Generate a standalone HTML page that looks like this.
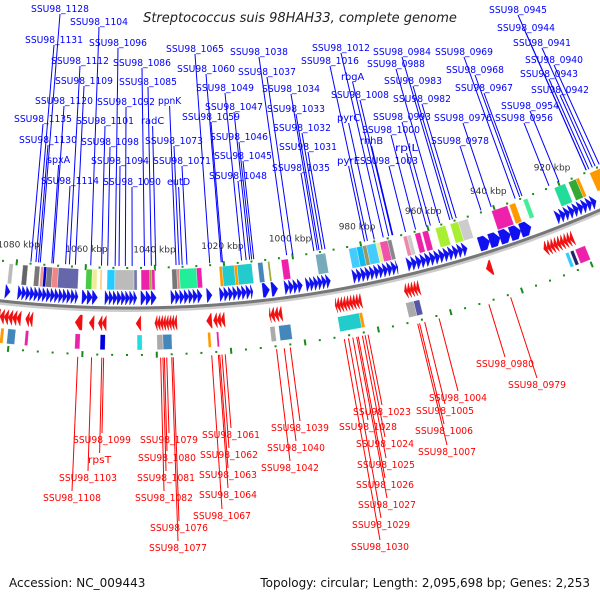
<!DOCTYPE html>
<html><head><meta charset="utf-8"><style>
html,body{margin:0;padding:0;background:#fff;}
svg{display:block;font-family:"DejaVu Sans","Liberation Sans",sans-serif;}
</style></head><body>
<svg id="map" width="600" height="600" viewBox="0 0 600 600" xmlns="http://www.w3.org/2000/svg">
<rect x="0" y="0" width="600" height="600" fill="#fff"/>
<text x="300" y="22" text-anchor="middle" font-size="13" font-style="italic" fill="#222">Streptococcus suis 98HAH33, complete genome</text>
<text x="9" y="587" font-size="12" fill="#111">Accession: NC_009443</text>
<text x="590" y="587" text-anchor="end" font-size="12" fill="#111">Topology: circular; Length: 2,095,698 bp; Genes: 2,253</text>
<g id="layer"></g>
</svg>
<script>
// ---- data ----
const tickKb = [1080,1060,1040,1020,1000,980,960,940,920];
const tickLabels = ["1080 kbp","1060 kbp","1040 kbp","1020 kbp","1000 kbp","980 kbp","960 kbp","940 kbp","920 kbp"];
const blueClusters = [[1083.7,1082.3],[1080,1062.4],[1061.2,1056.6],[1054.5,1045.2],[1044,1039.3],[1035.2,1026.1],[1024.7,1023.2],[1020.9,1011.2],[1008.3,1006.3],[1005.7,1003.9],[1001.8,996.5],[995.5,988.3],[981.6,968.2],[965.3,947.2],[943.5,927.3],[919.6,907]];
const blueGeneLen = [1.4,1.2,1.5,1.2,1.5,1.3,1.5,1.3,2,1.8,1.3,1.2,1.3,1.4,3.2,1.4];
const redClusters = [[1086,1078.5],[1077.1,1075.1],[1062.9,1060.9],[1059.2,1057.5],[1056.3,1054],[1045.5,1044.1],[1040.1,1033.8],[1025.3,1023.8],[1023.3,1020.1],[1007.3,1003.6],[988.2,980.6],[968,963.6],[943.7,942],[926.4,917.3]];
const redGeneLen = [1.2,1.0,2,1.4,1.2,1.4,0.8,1.5,1.1,1.1,0.9,0.9,1.7,1.0];
const upBoxStart = [1083.4,1079.3,1075.7,1073.9,1073,1072.1,1070.4,1068.6,1060.3,1058.5,1056.1,1054,1051.7,1046,1043.9,1041.3,1040.7,1034.7,1033.2,1032.4,1027.3,1020.5,1019.6,1016,1015.1,1008.9,1005.9,1001.8,991.4,981.3,978.9,977.1,975.9,973,971.8,969.4,964.6,963.4,961,958.7,954.6,950,947.5,937,931.4,927,917,912.4,910,905.5];
const upBoxEnd   = [1082.2,1077.8,1074.2,1073,1072.1,1070.4,1068.6,1062.6,1058.5,1057,1055.5,1051.7,1046,1045.1,1041.3,1040.7,1039.8,1033.2,1032.4,1027.3,1025.8,1019.6,1016,1015.1,1010.7,1007.4,1005.3,999.7,988.4,978.9,977.1,975.9,973,971.8,969.4,968.2,963.4,962.2,959.3,956.9,951.5,947.5,944.5,932,929.5,925.6,913.5,910,909,902];
const upBoxColor = ["#bbb","#666","#777","#e99","#00c","#778","#e88","#66a","#4c4","#ee9","#fc8","#2cf","#bbb","#77a","#e2a","#8a3","#e2a","#777","#e88","#2e9","#e2a","#f90","#2cc","#f90","#2cc","#48b","#9a3","#e2a","#7ab","#4cf","#1be","#996","#4cf","#ee9","#e5a","#888","#e8a","#ccc","#e2a","#e2a","#ae3","#ae3","#ccc","#e2a","#f90","#4e9","#2d9","#3a3","#f90","#f90"];
const lowBoxStart = [1083.8,1081.8,1076.8,1062.7,1055.6,1045.2,1039.6,1037.9,1025.2,1022.7,1007.5,1005,988.1,981.9,968.4,966.1,921,919.5,918];
const lowBoxEnd   = [1082.9,1079.6,1075.9,1061.3,1054.2,1043.8,1037.9,1035.4,1024.4,1022.1,1006.1,1001.6,981.9,981,966.1,964.4,920,918.5,915];
const lowBoxColor = ["#f90","#48b","#e2a","#e2a","#00d","#2dd","#aaa","#48b","#f90","#e2a","#aaa","#48b","#2cc","#f90","#aaa","#55a","#3cf","#226","#e2a"];
const blueNames = ["SSU98_1128","SSU98_1104","SSU98_1131","SSU98_1096","SSU98_1112","SSU98_1086","SSU98_1109","SSU98_1085","SSU98_1120","SSU98_1092","ppnK","SSU98_1135","SSU98_1101","radC","SSU98_1130","SSU98_1098","SSU98_1073","spxA","SSU98_1094","SSU98_1071","SSU98_1114","SSU98_1090","eutD","SSU98_1065","SSU98_1060","SSU98_1049","SSU98_1047","SSU98_1059","SSU98_1046","SSU98_1045","SSU98_1048","SSU98_1038","SSU98_1037","SSU98_1034","SSU98_1033","SSU98_1032","SSU98_1031","SSU98_1035","SSU98_1012","SSU98_1016","rbgA","SSU98_1008","pyrC","rnhB","pyrE","SSU98_1003","SSU98_0984","SSU98_0988","SSU98_0983","SSU98_0982","SSU98_0993","SSU98_1000","rpiL","SSU98_0969","SSU98_0968","SSU98_0967","SSU98_0976","SSU98_0978","SSU98_0945","SSU98_0944","SSU98_0941","SSU98_0940","SSU98_0943","SSU98_0942","SSU98_0954","SSU98_0956"];
const blueX = [31,70,25,89,51,113,55,119,35,97,158,14,76,141,19,81,145,47,91,153,41,103,167,166,177,196,205,182,210,214,209,230,238,262,267,273,279,272,312,301,341,331,337,360,337,360,373,367,384,393,373,362,395,435,446,455,434,431,489,497,513,525,520,531,501,495];
const blueY = [12,25,43,46,64,66,84,85,104,105,104,122,124,124,143,145,144,163,164,164,184,185,185,52,72,91,110,120,140,159,179,55,75,92,112,131,150,171,51,64,80,98,121,144,164,164,55,67,84,102,120,133,151,55,73,91,121,144,13,31,46,63,77,93,109,121];
const redNames = ["SSU98_1099","rpsT","SSU98_1103","SSU98_1108","SSU98_1079","SSU98_1080","SSU98_1081","SSU98_1082","SSU98_1076","SSU98_1077","SSU98_1061","SSU98_1062","SSU98_1063","SSU98_1064","SSU98_1067","SSU98_1039","SSU98_1040","SSU98_1042","SSU98_1023","SSU98_1028","SSU98_1024","SSU98_1025","SSU98_1026","SSU98_1027","SSU98_1029","SSU98_1030","SSU98_1004","SSU98_1005","SSU98_1006","SSU98_1007","SSU98_0980","SSU98_0979"];
const redX = [73,88,59,43,140,138,137,135,150,149,202,200,199,199,193,271,267,261,353,339,356,357,356,358,352,351,429,416,415,418,476,508];
const redY = [443,463,481,501,443,461,481,501,531,551,438,458,478,498,519,431,451,471,415,430,447,468,488,508,528,550,401,414,434,455,367,388];

// ---- geometry ----
const NS = "http://www.w3.org/2000/svg";
const CX = 130, CY = -868, R = 1176, KB0 = 1047.2, KPR = 328.6;
// feature coordinates were read against a slightly different scale; compensate
const FEAT = 0.9639;
const layer = document.getElementById('layer');
function P(kb, off){ const th=(KB0-kb)/KPR; const r=R-off; return [CX + r*Math.sin(th), CY + r*Math.cos(th)]; }
function F(kb, off){ return P(KB0-(KB0-kb)*FEAT, off); }
function mk(tag, attrs){ const el=document.createElementNS(NS,tag); for(const k in attrs) el.setAttribute(k,attrs[k]); layer.appendChild(el); return el; }
function pts(list){ return list.map(p=>p[0].toFixed(2)+','+p[1].toFixed(2)).join(' '); }

let e;
let bb=[]; for(let kb=1095; kb>=880; kb-=2) bb.push(P(kb,0));
e = mk('polyline',{points:pts(bb.map(p=>[p[0],p[1]+2])),fill:'none',stroke:'#ccc','stroke-width':4});


e = mk('polyline',{points:pts(bb),fill:'none',stroke:'#777','stroke-width':3});



for(let kb=1088; kb>=896; kb-=4){
  const major = tickKb.indexOf(kb)>=0;
  [[40,'upper'],[-47,'lower']].forEach(([off,side])=>{
    if(major){
      const a=P(kb,off+3), b=P(kb,off-3);
      e = mk('line',{x1:a[0],y1:a[1],x2:b[0],y2:b[1],stroke:'#1a8a1a','stroke-width':2});
      
      
    } else {
      const a=P(kb,off);
      e = mk('rect',{x:a[0]-1,y:a[1]-1,width:2,height:2,fill:'#1a8a1a'});
      
      
    }
  });
}
tickKb.forEach((kb,i)=>{
  const a=P(kb,58);
  e = mk('text',{x:a[0],y:a[1]+3,'text-anchor':'middle','font-size':9,fill:'#333'});
  e.textContent = tickLabels[i];
  
  
});

function box(a,b,o1,o2,col,name){
  const q=[F(a,o1),F(b,o1),F(b,o2),F(a,o2)];
  const el = mk('polygon',{points:pts(q),fill:col,stroke:'#fff','stroke-width':0.3});
  
  
}
upBoxStart.forEach((s,i)=>box(s,upBoxEnd[i],38,18,upBoxColor[i],'upper-feature-box'));
lowBoxStart.forEach((s,i)=>box(s,lowBoxEnd[i],-27,-42,lowBoxColor[i],'lower-feature-box'));

function gene(a,b,o1,o2,col,name){
  const dir = b<a ? 1 : -1;
  const len = Math.abs(a-b);
  const h = Math.min(len, 1.4);
  const mid=(o1+o2)/2;
  const q=[F(a,o1),F(b+dir*h,o1),F(b,mid),F(b+dir*h,o2),F(a,o2)];
  const el = mk('polygon',{points:pts(q),fill:col,stroke:col,'stroke-width':0.4});
  
  
}
blueClusters.forEach((c,i)=>{
  const L=blueGeneLen[i]; let s=c[0];
  while(s-c[1] > 0.3){ const t=Math.max(c[1], s-L); gene(s,t,17,3,'#1010f0','forward-gene'); s=t; }
});
redClusters.forEach((c,i)=>{
  const L=redGeneLen[i]; let s=c[1];
  while(c[0]-s > 0.3){ const t=Math.min(c[0], s+L); gene(s,t,-8,-23,'#f01010','reverse-gene'); s=t; }
});

blueNames.forEach((n,i)=>{
  const w = n.length*5.8;
  const sx = blueX[i]+w/2, sy = blueY[i]+2;
  const dx=sx-CX, dy=sy-CY, d=Math.hypot(dx,dy);
  const rr=R-42;
  const el = mk('line',{x1:sx,y1:sy,x2:CX+dx/d*rr,y2:CY+dy/d*rr,stroke:'#00f','stroke-width':1});
  
  
});
blueNames.forEach((n,i)=>{
  const t = mk('text',{x:blueX[i],y:blueY[i],'font-size':10,fill:'#00f',textLength:(n.length*5.8).toFixed(1),lengthAdjust:'spacingAndGlyphs'});
  t.textContent = n;
  
  
});
redNames.forEach((n,i)=>{
  const w = n.length*5.8;
  const ex = redX[i]+w/2, ey = redY[i]-10;
  const dx=ex-CX, dy=ey-CY, d=Math.hypot(dx,dy);
  const rr=R+50;
  const el = mk('line',{x1:CX+dx/d*rr,y1:CY+dy/d*rr,x2:ex,y2:ey,stroke:'#f00','stroke-width':1});
  
  
});
redNames.forEach((n,i)=>{
  const t = mk('text',{x:redX[i],y:redY[i],'font-size':10,fill:'#f00',textLength:(n.length*5.8).toFixed(1),lengthAdjust:'spacingAndGlyphs'});
  t.textContent = n;
  
  
});
</script>
</body></html>
